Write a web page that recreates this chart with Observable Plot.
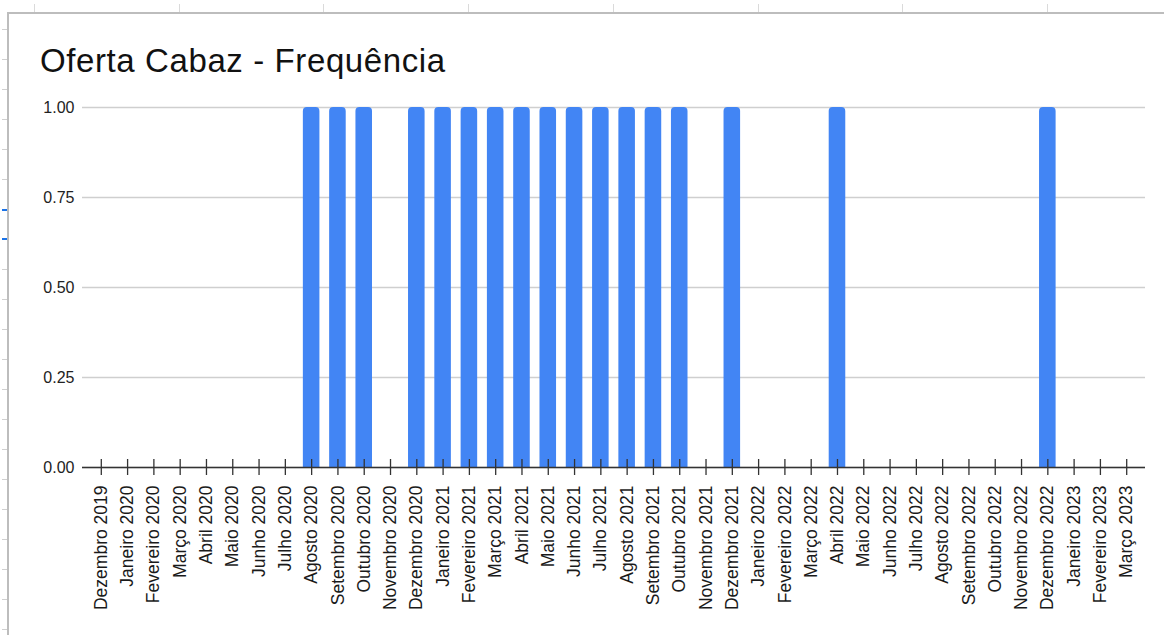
<!DOCTYPE html>
<html>
<head>
<meta charset="utf-8">
<script src="https://cdn.jsdelivr.net/npm/d3@7"></script>
<script src="https://cdn.jsdelivr.net/npm/@observablehq/plot@0.6"></script>
<style>
  html, body { margin: 0; padding: 0; background: #fff; }
  #sheet { position: relative; width: 1164px; height: 635px; overflow: hidden; background: #fff;
           font-family: "Liberation Sans", Arial, sans-serif; }
  .col-tick { position: absolute; top: 4px; width: 1px; height: 8px; background: #dadada; }
  .row-tick { position: absolute; left: 2px; width: 5px; height: 1px; background: #d0d0d0; }
  .row-tick.sel { background: #1a73e8; height: 2px; }
  #card { position: absolute; left: 7px; top: 12px; right: -2px; bottom: -2px;
          border-top: 2px solid #bdbdbd; border-left: 2px solid #bdbdbd; background: #fff; }
  #title { position: absolute; left: 40px; top: 44px; font-size: 33px; line-height: 1;
           letter-spacing: 0.6px; color: #111; white-space: nowrap; z-index: 2; }
  #chart { position: absolute; left: 0; top: 0; z-index: 1; }
</style>
</head>
<body>
<div id="sheet">
  <div id="card"></div>
  <div id="title">Oferta Cabaz - Frequência</div>
  <div id="chart"></div>
</div>
<script>
// Months on the category axis
const months = [
  "Dezembro 2019",
  "Janeiro 2020", "Fevereiro 2020", "Março 2020", "Abril 2020", "Maio 2020", "Junho 2020",
  "Julho 2020", "Agosto 2020", "Setembro 2020", "Outubro 2020", "Novembro 2020", "Dezembro 2020",
  "Janeiro 2021", "Fevereiro 2021", "Março 2021", "Abril 2021", "Maio 2021", "Junho 2021",
  "Julho 2021", "Agosto 2021", "Setembro 2021", "Outubro 2021", "Novembro 2021", "Dezembro 2021",
  "Janeiro 2022", "Fevereiro 2022", "Março 2022", "Abril 2022", "Maio 2022", "Junho 2022",
  "Julho 2022", "Agosto 2022", "Setembro 2022", "Outubro 2022", "Novembro 2022", "Dezembro 2022",
  "Janeiro 2023", "Fevereiro 2023", "Março 2023"
];

// Frequency of the basket offer per month
const frequencia = [
  0,
  0, 0, 0, 0, 0, 0,
  0, 1, 1, 1, 0, 1,
  1, 1, 1, 1, 1, 1,
  1, 1, 1, 1, 0, 1,
  0, 0, 0, 1, 0, 0,
  0, 0, 0, 0, 0, 1,
  0, 0, 0
];

// Value axis ticks
const yTicks = [0, 0.25, 0.5, 0.75, 1];

const data = months.map((m, i) => ({month: m, value: frequencia[i]}));

// Spreadsheet grid decoration around the chart card
const sheet = document.getElementById("sheet");
[34, 179, 323, 468, 613, 758, 902, 1047].forEach(x => {
  const d = document.createElement("div");
  d.className = "col-tick";
  d.style.left = x + "px";
  sheet.appendChild(d);
});
for (let y = 29, k = 0; y < 635; y += 30, k++) {
  const d = document.createElement("div");
  d.className = "row-tick" + (k === 6 || k === 7 ? " sel" : "");
  d.style.top = (k === 7 ? y - 1 : y) + "px";
  sheet.appendChild(d);
}

const W = 1164, H = 635;
const top0 = 107, bottom0 = 467;
const font = "'Liberation Sans', Arial, sans-serif";

const chart = Plot.plot({
  width: W,
  height: H,
  marginLeft: 82,
  marginRight: 19,
  marginTop: top0,
  marginBottom: H - bottom0,
  style: {fontFamily: font, fontSize: "17px", color: "#222", background: "transparent", overflow: "visible"},
  x: {domain: months, paddingInner: 0.37, paddingOuter: 0.4, round: false, label: null},
  y: {domain: [0, 1], label: null},
  marks: [
    Plot.gridY(yTicks, {stroke: "#cfcfcf", strokeOpacity: 1, strokeWidth: 1.3}),
    Plot.axisY(yTicks, {tickFormat: d3.format(".2f"), tickSize: 0, tickPadding: 8, label: null, fill: "#222", fontSize: 16}),
    // bars rounded on top; the bottom corners are pushed below the frame and clipped
    Plot.barY(data, {x: "month", y: "value", fill: "#4285f4", rx: 4, insetBottom: -6, clip: true}),
    Plot.ruleY([0], {stroke: "#333", strokeWidth: 1.6}),
    Plot.tickX(months, {x: d => d, stroke: "#333", strokeWidth: 1.3, insetTop: bottom0 - top0 - 8, insetBottom: -8}),
    Plot.axisX({tickSize: 0, tickPadding: 18, tickRotate: -90, label: null, fill: "#1a1a1a", fontSize: 17.5})
  ]
});
document.getElementById("chart").appendChild(chart);
</script>
</body>
</html>
